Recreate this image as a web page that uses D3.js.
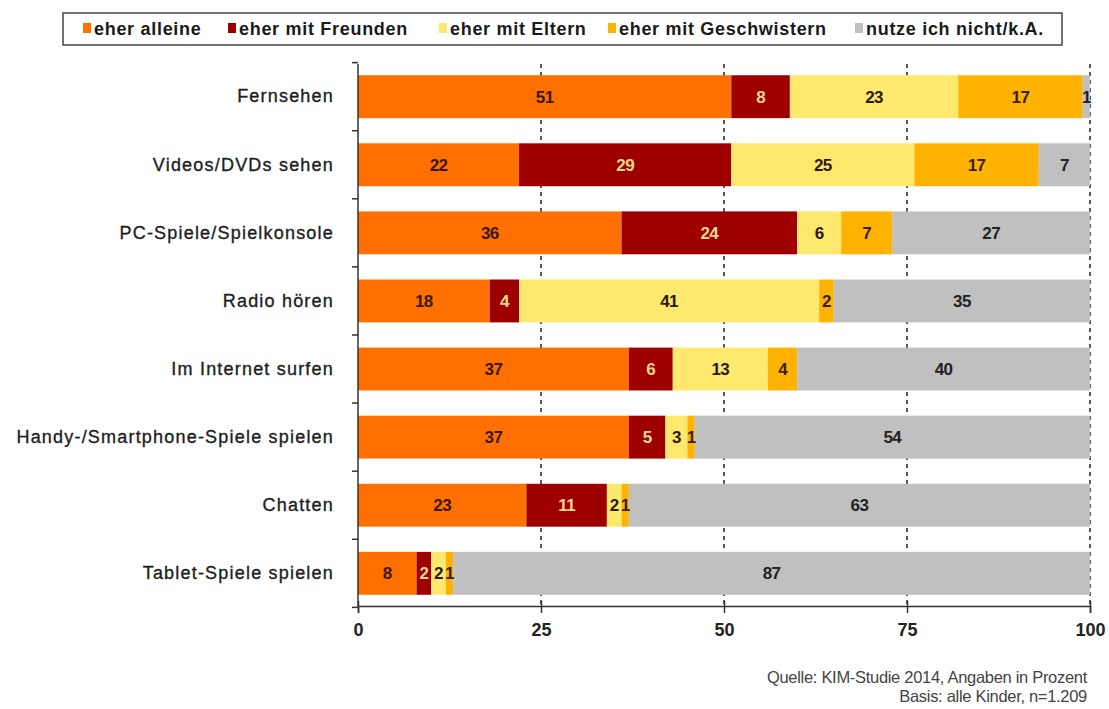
<!DOCTYPE html>
<html>
<head>
<meta charset="utf-8">
<script src="https://cdn.jsdelivr.net/npm/d3@7"></script>
<style>
body { margin: 0; background: #fff; }
svg { font-family: "Liberation Sans", Arial, sans-serif; }
</style>
</head>
<body>
<svg id="chart" width="1109" height="709"></svg>
<script>
var categories = ["Fernsehen", "Videos/DVDs sehen", "PC-Spiele/Spielkonsole", "Radio hören",
  "Im Internet surfen", "Handy-/Smartphone-Spiele spielen", "Chatten", "Tablet-Spiele spielen"];
var seriesNames = ["eher alleine", "eher mit Freunden", "eher mit Eltern", "eher mit Geschwistern", "nutze ich nicht/k.A."];
var alleine     = [51, 22, 36, 18, 37, 37, 23, 8];
var freunden    = [8, 29, 24, 4, 6, 5, 11, 2];
var eltern      = [23, 25, 6, 41, 13, 3, 2, 2];
var geschwister = [17, 17, 7, 2, 4, 1, 1, 1];
var nicht       = [1, 7, 27, 35, 40, 54, 63, 87];
var xTicks = [0, 25, 50, 75, 100];

var colors = ["#ff7000", "#9e0000", "#ffe86e", "#ffb300", "#c0c0c0"];
var labelColors = ["#3a1800", "#f8d88c", "#2a1a00", "#3a1e00", "#222"];

var svg = d3.select("#chart");
var mLeft = 358, mRight = 1090, mTop = 64, mBottom = 606;

var x = d3.scaleLinear().domain([0, 100]).range([mLeft, mRight]);
var y = d3.scaleBand().domain(categories).range([mTop, mBottom]).paddingInner(0.37).paddingOuter(0.165);

var rows = categories.map(function(c, i) {
  return {cat: c, vals: [alleine[i], freunden[i], eltern[i], geschwister[i], nicht[i]]};
});

// dashed gridlines, behind the bars
svg.append("g").selectAll("line")
  .data(xTicks.slice(1))
  .enter().append("line")
  .attr("x1", function(d) { return x(d); })
  .attr("x2", function(d) { return x(d); })
  .attr("y1", mTop).attr("y2", mBottom)
  .attr("stroke", "#222").attr("stroke-width", 1.5)
  .attr("stroke-dasharray", "4,4");

var seg = [];
rows.forEach(function(r) {
  var acc = 0;
  r.vals.forEach(function(v, k) {
    seg.push({cat: r.cat, k: k, x0: acc, x1: acc + v, v: v});
    acc += v;
  });
});

svg.append("g").selectAll("rect")
  .data(seg)
  .enter().append("rect")
  .attr("x", function(d) { return x(d.x0); })
  .attr("width", function(d) { return x(d.x1) - x(d.x0); })
  .attr("y", function(d) { return y(d.cat); })
  .attr("height", y.bandwidth())
  .attr("fill", function(d) { return colors[d.k]; });

svg.append("g").selectAll("text")
  .data(seg)
  .enter().append("text")
  .attr("x", function(d) { return x((d.x0 + d.x1) / 2); })
  .attr("y", function(d) { return y(d.cat) + y.bandwidth() / 2; })
  .attr("dy", "0.36em")
  .attr("text-anchor", "middle")
  .attr("font-size", 17)
  .attr("font-weight", "bold")
  .attr("letter-spacing", "-0.6")
  .attr("fill", function(d) { return labelColors[d.k]; })
  .text(function(d) { return d.v; });

// x axis
var xAxis = svg.append("g")
  .attr("transform", "translate(0," + mBottom + ")")
  .call(d3.axisBottom(x).tickValues(xTicks).tickSize(7).tickPadding(10));
xAxis.select(".domain").attr("stroke", "#333").attr("stroke-width", 1.5);
xAxis.selectAll(".tick line").attr("stroke", "#333").attr("stroke-width", 1.5).attr("y1", -5);
xAxis.selectAll("text").attr("font-size", 18).attr("font-weight", "bold")
  .attr("fill", "#222").attr("font-family", "Liberation Sans, Arial, sans-serif");

// y axis
var yAxis = svg.append("g")
  .attr("transform", "translate(" + mLeft + ",0)")
  .call(d3.axisLeft(y).tickSize(0).tickPadding(24));
yAxis.select(".domain").attr("stroke", "#333").attr("stroke-width", 1.5)
  .attr("d", "M0," + mTop + "V" + mBottom);
yAxis.selectAll("text").attr("font-size", 18).attr("fill", "#1e1e1e")
  .attr("stroke", "#1e1e1e").attr("stroke-width", 0.35)
  .attr("font-family", "Liberation Sans, Arial, sans-serif").attr("letter-spacing", "1.2");

// small ticks at the category boundaries
var step = y.step();
var gap = step - y.bandwidth();
var bounds = categories.map(function(c) { return y(c) - gap / 2; });
bounds.push(y(categories[categories.length - 1]) + y.bandwidth() + gap / 2);
svg.append("g").selectAll("line")
  .data(bounds)
  .enter().append("line")
  .attr("x1", mLeft - 6).attr("x2", mLeft)
  .attr("y1", function(d) { return d; })
  .attr("y2", function(d) { return d; })
  .attr("stroke", "#333").attr("stroke-width", 1.5);

// legend
var lg = svg.append("g");
lg.append("rect").attr("x", 63).attr("y", 13).attr("width", 999).attr("height", 32)
  .attr("fill", "#fff").attr("stroke", "#444").attr("stroke-width", 1.5);
var legX = [83, 228, 439, 608, 855];
seriesNames.forEach(function(n, i) {
  lg.append("rect").attr("x", legX[i]).attr("y", 23).attr("width", 8).attr("height", 10).attr("fill", colors[i]);
  lg.append("text").attr("x", legX[i] + 11).attr("y", 35).attr("font-size", 18).attr("font-weight", "bold")
    .attr("fill", "#1a1a1a").attr("letter-spacing", "0.7").text(n);
});

// source
svg.append("text").attr("x", 1087).attr("y", 683).attr("text-anchor", "end")
  .attr("font-size", 16.5).attr("fill", "#444").attr("letter-spacing", "-0.3")
  .text("Quelle: KIM-Studie 2014, Angaben in Prozent");
svg.append("text").attr("x", 1087).attr("y", 702).attr("text-anchor", "end")
  .attr("font-size", 16.5).attr("fill", "#444").attr("letter-spacing", "-0.3")
  .text("Basis: alle Kinder, n=1.209");
</script>
</body>
</html>
